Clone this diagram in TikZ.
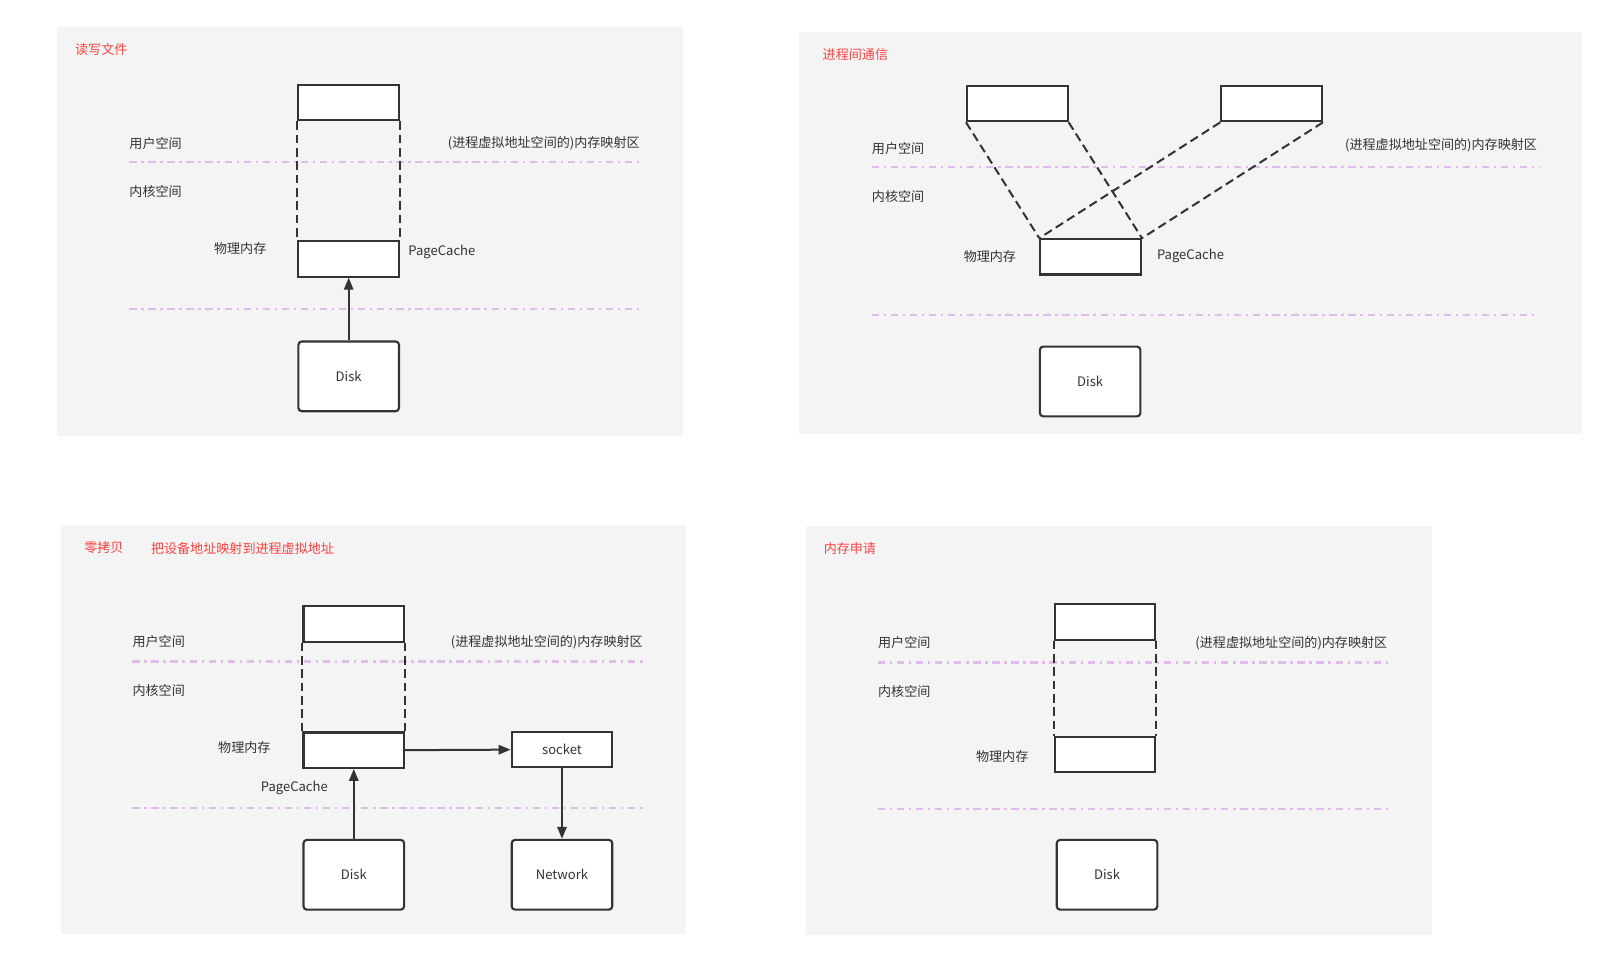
\documentclass[tikz,border=0pt]{standalone}
\usepackage{fontspec}
\setmainfont{Noto Sans CJK SC}
\usetikzlibrary{arrows.meta}
\definecolor{bgc}{RGB}{244,244,244}
\definecolor{ink}{RGB}{51,51,51}
\definecolor{ttlc}{RGB}{255,64,64}
\definecolor{sepc}{RGB}{226,186,236}
\begin{document}
\begin{tikzpicture}[x=0.769pt,y=-0.769pt,
  panel/.style={fill=bgc,draw=none},
  box/.style={draw=ink,line width=1.6pt,fill=white,minimum width=75.4pt,minimum height=26.5pt,inner sep=0pt,font=\fontsize{9.8}{12}\selectfont,text=ink},
  diskbox/.style={box,rounded corners=2.5pt,minimum height=52.3pt},
  lbl/.style={text=ink,font=\fontsize{9.8}{12}\selectfont,inner sep=0pt},
  ttl/.style={text=ttlc,font=\fontsize{9.8}{12}\selectfont,inner sep=0pt,anchor=west},
  sepline/.style={draw=sepc,line width=1.6pt,dash pattern=on 5.5pt off 3.5pt on 1.8pt off 3.5pt},
  mapline/.style={draw=ink,line width=1.5pt,dash pattern=on 6.5pt off 3.5pt},
  flow/.style={draw=ink,line width=1.5pt,-{Triangle[length=9pt,width=7pt]}}
]
\useasboundingbox[fill=white] (0,0) rectangle (1568,938);

% ---------- Panel 1 ----------
\fill[panel] (56,26) rectangle (666,425);
\node[ttl] (t1) at (73,48) {读写文件};
\draw[sepline] (126,158) -- (626,158);
\draw[sepline] (126,301) -- (626,301);
\node[lbl,anchor=west] (us1) at (126,140) {用户空间};
\node[lbl,anchor=east] (mm1) at (624,140) {(进程虚拟地址空间的)内存映射区};
\node[lbl,anchor=west] (ks1) at (126,187) {内核空间};
\node[box] (u1) at (340,100) {};
\node[box] (pc1) at (340,252.5) {};
\node[diskbox] (d1) at (340,367) {Disk};
\node[lbl,anchor=east] (pm1) at (260,242) {物理内存};
\node[lbl,anchor=west] (pcl1) at (398,246) {PageCache};
\draw[mapline] (u1.south west) -- (pc1.north west);
\draw[mapline] (u1.south east) -- (pc1.north east);
\draw[flow] (d1.north) -- (pc1.south);

% ---------- Panel 2 ----------
\fill[panel] (779,31) rectangle (1543,423);
\node[ttl] (t2) at (802,53) {进程间通信};
\draw[sepline] (850,163) -- (1502,163);
\draw[sepline] (850,307) -- (1496,307);
\node[lbl,anchor=west] (us2) at (850,145) {用户空间};
\node[lbl,anchor=east] (mm2) at (1499,142) {(进程虚拟地址空间的)内存映射区};
\node[lbl,anchor=west] (ks2) at (850,192) {内核空间};
\node[box] (a2) at (992,101) {};
\node[box] (b2) at (1240,101) {};
\node[box] (pc2) at (1063.5,250.5) {};
\node[diskbox] (d2) at (1063,372) {Disk};
\node[lbl,anchor=east] (pm2) at (991,250) {物理内存};
\node[lbl,anchor=west] (pcl2) at (1128,250) {PageCache};
\draw[mapline] (a2.south west) -- (pc2.north west);
\draw[mapline] (a2.south east) -- (pc2.north east);
\draw[mapline] (b2.south west) -- (pc2.north west);
\draw[mapline] (b2.south east) -- (pc2.north east);

% ---------- Panel 3 ----------
\fill[panel] (59,512) rectangle (669,911);
\node[ttl] (t3) at (82,534) {零拷贝};
\node[ttl] (t3b) at (147,535) {把设备地址映射到进程虚拟地址};
\draw[sepline] (129,645) -- (629,645);
\draw[sepline] (129,788) -- (629,788);
\node[lbl,anchor=west] (us3) at (129,626) {用户空间};
\node[lbl,anchor=east] (mm3) at (627,626) {(进程虚拟地址空间的)内存映射区};
\node[lbl,anchor=west] (ks3) at (129,673) {内核空间};
\node[box] (u3) at (345,608.5) {};
\node[box] (pc3) at (345,731.5) {};
\node[box] (s3) at (548,731) {socket};
\node[diskbox] (d3) at (345,853) {Disk};
\node[diskbox] (n3) at (548,853) {Network};
\node[lbl,anchor=east] (pm3) at (264,729) {物理内存};
\node[lbl] (pcl3) at (287,768) {PageCache};
\draw[mapline] (u3.south west) -- (pc3.north west);
\draw[mapline] (u3.south east) -- (pc3.north east);
\draw[flow] (d3.north) -- (pc3.south);
\draw[flow] (pc3.east) -- (s3.west);
\draw[flow] (s3.south) -- (n3.north);

% ---------- Panel 4 ----------
\fill[panel] (786,513) rectangle (1396,912);
\node[ttl] (t4) at (803,535) {内存申请};
\draw[sepline] (856,646) -- (1356,646);
\draw[sepline] (856,789) -- (1356,789);
\node[lbl,anchor=west] (us4) at (856,627) {用户空间};
\node[lbl,anchor=east] (mm4) at (1353,627) {(进程虚拟地址空间的)内存映射区};
\node[lbl,anchor=west] (ks4) at (856,674) {内核空间};
\node[box] (u4) at (1077.5,606.5) {};
\node[box] (pc4) at (1077.5,735.5) {};
\node[diskbox] (d4) at (1079.5,853) {Disk};
\node[lbl,anchor=east] (pm4) at (1003,738) {物理内存};
\draw[mapline] (u4.south west) -- (pc4.north west);
\draw[mapline] (u4.south east) -- (pc4.north east);
\end{tikzpicture}
\end{document}
